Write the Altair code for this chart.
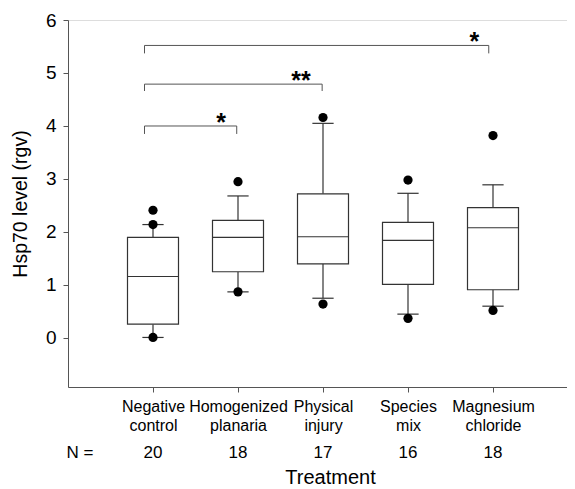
import json
import altair as alt
import pandas as pd

# ---- data ----
categories = ["Negative control", "Homogenized planaria", "Physical injury", "Species mix", "Magnesium chloride"]
label_lines = [["Negative", "control"], ["Homogenized", "planaria"], ["Physical", "injury"],
               ["Species", "mix"], ["Magnesium", "chloride"]]
n_counts = [20, 18, 17, 16, 18]
q1 = [0.26, 1.25, 1.40, 1.01, 0.91]
median = [1.16, 1.90, 1.91, 1.84, 2.08]
q3 = [1.90, 2.22, 2.72, 2.18, 2.46]
whisker_low = [0.01, 0.87, 0.75, 0.45, 0.60]
whisker_high = [2.14, 2.68, 4.05, 2.73, 2.89]
outlier_group = [1, 1, 1, 2, 2, 3, 3, 4, 4, 5, 5]
outlier_value = [2.41, 2.14, 0.01, 2.95, 0.87, 4.16, 0.64, 2.98, 0.37, 3.82, 0.52]

# significance brackets (from group position to group position)
bracket_x1 = [0.90, 0.90, 0.90]
bracket_x2 = [1.985, 2.99, 4.95]
bracket_y = [4.00, 4.79, 5.52]
bracket_drop = [3.85, 4.66, 5.37]
star_x = [1.80, 2.74, 4.78]
star_text = ["*", "**", "*"]

pos = [1, 2, 3, 4, 5]
box_half = 0.30
cap_half = 0.125

W, H = 499, 367
FONT = "Liberation Sans"
LINE = "#333333"

box_df = pd.DataFrame({
    "pos": pos, "q1": q1, "median": median, "q3": q3,
    "lo": whisker_low, "hi": whisker_high, "n": n_counts,
})
out_df = pd.DataFrame({"pos": outlier_group, "value": outlier_value})
br_df = pd.DataFrame({"x1": bracket_x1, "x2": bracket_x2, "y": bracket_y, "yd": bracket_drop,
                      "sx": star_x, "star": star_text})

label_expr = " : ".join(
    f"datum.value == {p} ? {json.dumps(l)}" for p, l in zip(pos, label_lines)
) + " : ''"

xscale = alt.Scale(domain=[0, W / 85.0], nice=False, zero=False)
yscale = alt.Scale(domain=[-0.925, 6], nice=False, zero=False)

xaxis = alt.Axis(
    values=pos, labelExpr=label_expr, grid=False, tickSize=5, tickColor="#555555",
    domainColor="#555555", labelFont=FONT, labelFontSize=16, labelLineHeight=19,
    labelPadding=6, labelColor="black", labelOverlap=False,
    title="Treatment", titleFont=FONT, titleFontSize=20, titleFontWeight="normal",
    titleColor="black", titleX=262, titleY=90, titleBaseline="middle",
)
yaxis = alt.Axis(
    values=[0, 1, 2, 3, 4, 5, 6], grid=False, tickSize=5, tickColor="#555555",
    domainColor="#555555", labelFont=FONT, labelFontSize=19, labelPadding=7,
    labelColor="black", format="d",
    title="Hsp70 level (rgv)", titleFont=FONT, titleFontSize=19.5, titleFontWeight="normal",
    titleColor="black", titleX=-48, titleBaseline="middle",
)

base = alt.Chart(box_df)

whisk_lo = base.mark_rule(color=LINE, strokeWidth=1.2).encode(
    x=alt.X("pos:Q", scale=xscale, axis=xaxis),
    y=alt.Y("lo:Q", scale=yscale, axis=yaxis),
    y2="q1:Q",
)
whisk_hi = base.mark_rule(color=LINE, strokeWidth=1.2).encode(
    x="pos:Q", y="q3:Q", y2="hi:Q",
)
caps_lo = base.transform_calculate(
    a=f"datum.pos - {cap_half}", b=f"datum.pos + {cap_half}"
).mark_rule(color=LINE, strokeWidth=1.2).encode(x="a:Q", x2="b:Q", y="lo:Q")
caps_hi = base.transform_calculate(
    a=f"datum.pos - {cap_half}", b=f"datum.pos + {cap_half}"
).mark_rule(color=LINE, strokeWidth=1.2).encode(x="a:Q", x2="b:Q", y="hi:Q")
boxes = base.transform_calculate(
    a=f"datum.pos - {box_half}", b=f"datum.pos + {box_half}"
).mark_rect(fill="white", stroke=LINE, strokeWidth=1.2).encode(
    x="a:Q", x2="b:Q", y="q1:Q", y2="q3:Q"
)
medians = base.transform_calculate(
    a=f"datum.pos - {box_half}", b=f"datum.pos + {box_half}"
).mark_rule(color=LINE, strokeWidth=1.2).encode(x="a:Q", x2="b:Q", y="median:Q")

dots = alt.Chart(out_df).mark_point(filled=True, color="black", size=85, opacity=1).encode(
    x="pos:Q", y="value:Q"
)

br = alt.Chart(br_df)
br_h = br.mark_rule(color="#555555", strokeWidth=1).encode(x="x1:Q", x2="x2:Q", y="y:Q")
br_l = br.mark_rule(color="#555555", strokeWidth=1).encode(x="x1:Q", y="y:Q", y2="yd:Q")
br_r = br.mark_rule(color="#555555", strokeWidth=1).encode(x="x2:Q", y="y:Q", y2="yd:Q")
stars = br.mark_text(font=FONT, fontSize=25, fontWeight="bold", baseline="alphabetic",
                     dy=5, color="black").encode(x="sx:Q", y="y:Q", text="star:N")

n_row = base.mark_text(font=FONT, fontSize=17, baseline="middle", color="black").encode(
    x="pos:Q", y=alt.value(433), text="n:Q"
)
n_lab = alt.Chart(pd.DataFrame({"t": ["N ="]})).mark_text(
    font=FONT, fontSize=17, baseline="middle", align="center", color="black"
).encode(x=alt.value(12), y=alt.value(433), text="t:N")

chart = alt.layer(
    whisk_lo, whisk_hi, caps_lo, caps_hi, boxes, medians, dots,
    br_h, br_l, br_r, stars, n_row, n_lab
).properties(
    width=W, height=H,
    autosize=alt.AutoSizeParams(type="none"),
    padding={"left": 60, "top": 12, "right": 0, "bottom": 100},
).configure_view(stroke=None).configure(background="white")

chart.save("out.html", embed_options={"renderer": "svg", "actions": False})
